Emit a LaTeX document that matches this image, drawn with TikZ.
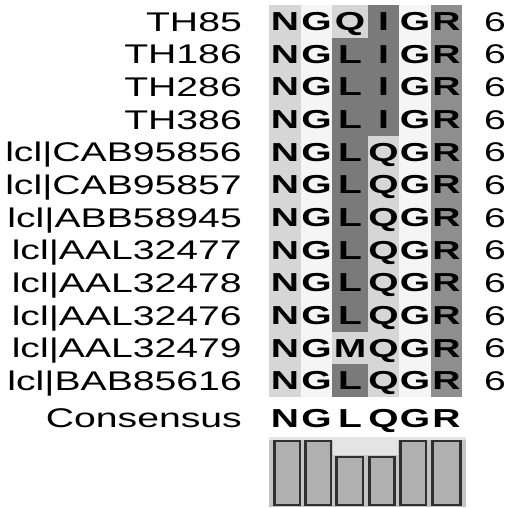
\documentclass[tikz,border=0pt]{standalone}
\usepackage{fontspec}
\setmainfont[FakeStretch=1.45]{Liberation Sans}
\newfontfamily\cellfont[FakeStretch=1.5]{Liberation Sans}
\definecolor{cn}{HTML}{D6D6D6}
\definecolor{cl}{HTML}{D6D6D6}
\definecolor{cg}{HTML}{F5F5F5}
\definecolor{cd}{HTML}{7A7A7A}
\definecolor{cr}{HTML}{8E8E8E}
\definecolor{barfill}{HTML}{B0B0B0}
\definecolor{barline}{HTML}{303030}
\definecolor{barbg}{HTML}{C4C4C4}
\definecolor{bartop}{HTML}{E4E4E4}
\begin{document}
\begin{tikzpicture}[x=1pt,y=-1pt,
  lab/.style={anchor=base east, inner sep=0pt, font=\fontsize{27}{27}\selectfont},
  num/.style={anchor=base, inner sep=0pt, font=\fontsize{27}{27}\selectfont},
  cell/.style={inner sep=0pt, minimum height=32.67pt, text height=18.5pt, text depth=0pt,
    font=\cellfont\bfseries\fontsize{26}{26}\selectfont},
  bar/.style={fill=barfill, draw=barline, line width=2.5pt}]
\useasboundingbox (0,0) rectangle (507,508);
% labels
\foreach \i/\t in {0/TH85,1/TH186,2/TH286,3/TH386,4/lcl|CAB95856,5/lcl|CAB95857,
  6/lcl|ABB58945,7/lcl|AAL32477,8/lcl|AAL32478,9/lcl|AAL32476,10/lcl|AAL32479,11/lcl|BAB85616}{
  \pgfmathsetmacro\yy{21.33+32.67*\i+9.7}
  \node[lab] (lab\i) at (242,\yy) {\t};
  \node[num] (num\i) at (495,\yy) {6};
}
% cells
\foreach \i/\a/\ca/\b/\cb in {0/Q/cl/I/cd,1/L/cd/I/cd,2/L/cd/I/cd,3/L/cd/I/cd,
  4/L/cd/Q/cl,5/L/cd/Q/cl,6/L/cd/Q/cl,7/L/cd/Q/cl,8/L/cd/Q/cl,9/L/cd/Q/cl,
  10/M/cl/Q/cl,11/L/cd/Q/cl}{
  \pgfmathsetmacro\yy{21.33+32.67*\i}
  \node[cell,fill=cn,minimum width=32pt] (c\i a) at (285,\yy) {N};
  \node[cell,fill=cg,minimum width=31pt] (c\i b) at (316.5,\yy) {G};
  \node[cell,fill=\ca,minimum width=36pt] (c\i c) at (350,\yy) {\a};
  \node[cell,fill=\cb,minimum width=31pt] (c\i d) at (383.5,\yy) {\b};
  \node[cell,fill=cg,minimum width=32pt] (c\i e) at (415,\yy) {G};
  \node[cell,fill=cr,minimum width=31pt] (c\i f) at (446.5,\yy) {R};
}
% consensus
\node[lab] (labC) at (242,427.7) {Consensus};
\foreach \x/\l/\n in {285/N/a,316.5/G/b,350/L/c,383.5/Q/d,415/G/e,446.5/R/f}{
  \node[cell] (cons\n) at (\x,418) {\l};
}
% bar plot
\fill[barbg] (269,437) rectangle (466,507);
\fill[bartop] (269,437) rectangle (466,440);
\fill[bartop] (333,440) rectangle (398,455);
\draw[bar] (274.5,441) rectangle (300,505);
\draw[bar] (305.5,441) rectangle (331,505);
\draw[bar] (336.5,457) rectangle (363,505);
\draw[bar] (369.5,457) rectangle (394.5,505);
\draw[bar] (400.5,441) rectangle (426,505);
\draw[bar] (432.5,441) rectangle (460.5,505);
\end{tikzpicture}
\end{document}
